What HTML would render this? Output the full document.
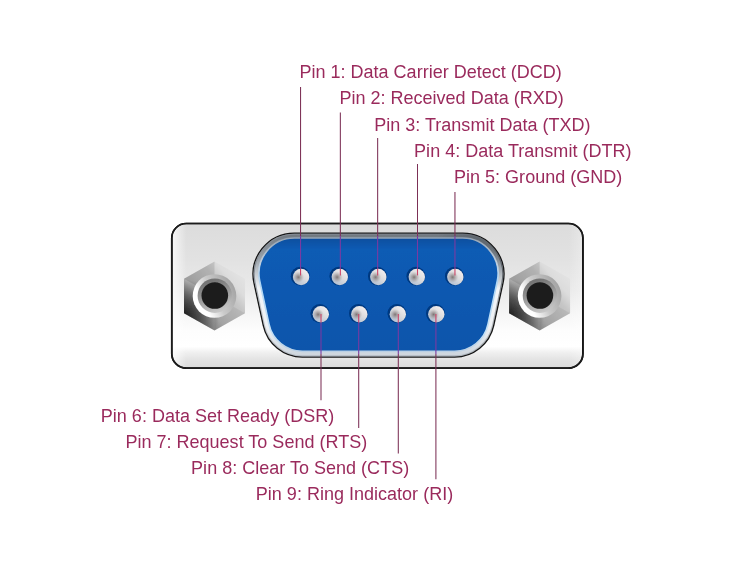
<!DOCTYPE html>
<html lang="en">
<head>
<meta charset="utf-8">
<title>DB9 Serial Connector Pinout</title>
<style>
html,body{margin:0;padding:0;background:#fff;}
body{width:750px;height:568px;overflow:hidden;position:relative;}
svg{position:absolute;left:0;top:0;display:block;}
text{font-family:"Liberation Sans",sans-serif;font-size:18.04px;fill:#9a2a5c;}
</style>
</head>
<body>
<svg width="750" height="568" viewBox="0 0 750 568">
<defs>
  <linearGradient id="plate" x1="0" y1="0" x2="0" y2="1">
    <stop offset="0" stop-color="#dcdcdc"/>
    <stop offset="0.25" stop-color="#e2e2e2"/>
    <stop offset="0.46" stop-color="#eaeaea"/>
    <stop offset="0.6" stop-color="#f4f4f4"/>
    <stop offset="0.74" stop-color="#fdfdfd"/>
    <stop offset="0.85" stop-color="#ffffff"/>
    <stop offset="0.89" stop-color="#f0f0f0"/>
    <stop offset="0.945" stop-color="#e2e2e2"/>
    <stop offset="1" stop-color="#dadada"/>
  </linearGradient>
  <linearGradient id="plateSide" gradientUnits="userSpaceOnUse" x1="172" y1="0" x2="583" y2="0">
    <stop offset="0" stop-color="#fff" stop-opacity="0.75"/>
    <stop offset="0.035" stop-color="#fff" stop-opacity="0"/>
    <stop offset="0.965" stop-color="#fff" stop-opacity="0"/>
    <stop offset="1" stop-color="#fff" stop-opacity="0.3"/>
  </linearGradient>
  <linearGradient id="rim" gradientUnits="userSpaceOnUse" x1="0" y1="233" x2="0" y2="357">
    <stop offset="0" stop-color="#6c747c"/>
    <stop offset="0.07" stop-color="#7e868e"/>
    <stop offset="0.2" stop-color="#98a0a8"/>
    <stop offset="0.45" stop-color="#f2f5f8"/>
    <stop offset="0.75" stop-color="#eef1f4"/>
    <stop offset="1" stop-color="#ccd4dc"/>
  </linearGradient>
  <linearGradient id="rimIn" gradientUnits="userSpaceOnUse" x1="0" y1="233" x2="0" y2="357">
    <stop offset="0" stop-color="#8e9cac"/>
    <stop offset="0.25" stop-color="#c0d0e0"/>
    <stop offset="0.4" stop-color="#b0d6f4"/>
    <stop offset="0.8" stop-color="#c4e0f6"/>
    <stop offset="1" stop-color="#b8cce0"/>
  </linearGradient>
  <radialGradient id="rimTR" gradientUnits="userSpaceOnUse" cx="492" cy="236" r="55">
    <stop offset="0" stop-color="#30363c" stop-opacity="0.45"/>
    <stop offset="0.5" stop-color="#30363c" stop-opacity="0.22"/>
    <stop offset="1" stop-color="#30363c" stop-opacity="0"/>
  </radialGradient>
  <linearGradient id="fade" gradientUnits="userSpaceOnUse" x1="0" y1="233" x2="0" y2="357">
    <stop offset="0" stop-color="#fff"/>
    <stop offset="0.3" stop-color="#fff"/>
    <stop offset="0.6" stop-color="#777"/>
    <stop offset="1" stop-color="#555"/>
  </linearGradient>
  <mask id="fadeMask" maskUnits="userSpaceOnUse" x="240" y="225" width="280" height="140"><rect x="240" y="225" width="280" height="140" fill="url(#fade)"/></mask>
  <linearGradient id="rimDark" gradientUnits="userSpaceOnUse" x1="252" y1="0" x2="505" y2="0">
    <stop offset="0" stop-color="#8a9098"/>
    <stop offset="0.7" stop-color="#7a8088"/>
    <stop offset="1" stop-color="#5c6268"/>
  </linearGradient>
  <linearGradient id="blue" x1="0" y1="0" x2="0" y2="1">
    <stop offset="0" stop-color="#084e9e"/>
    <stop offset="0.1" stop-color="#0a5bb4"/>
    <stop offset="1" stop-color="#0855ab"/>
  </linearGradient>
  <linearGradient id="pinBase" x1="0.8" y1="0.1" x2="0.2" y2="0.9">
    <stop offset="0" stop-color="#f2eeee"/>
    <stop offset="0.45" stop-color="#dcdcde"/>
    <stop offset="1" stop-color="#b4c2d4"/>
  </linearGradient>
  <radialGradient id="pinSpot" gradientUnits="userSpaceOnUse" cx="-2.6" cy="0.2" r="5.6">
    <stop offset="0" stop-color="#6e6462" stop-opacity="0.85"/>
    <stop offset="0.5" stop-color="#8a7e7c" stop-opacity="0.45"/>
    <stop offset="1" stop-color="#a09894" stop-opacity="0"/>
  </radialGradient>
  <linearGradient id="hex" gradientUnits="userSpaceOnUse" x1="26.3" y1="-22.3" x2="-26.3" y2="22.3">
    <stop offset="0" stop-color="#e3e3e3"/>
    <stop offset="0.175" stop-color="#dcdcdc"/>
    <stop offset="0.325" stop-color="#c6c6c6"/>
    <stop offset="0.675" stop-color="#aeaeae"/>
    <stop offset="0.825" stop-color="#8c8c8c"/>
    <stop offset="1" stop-color="#6e6e6e"/>
  </linearGradient>
  <radialGradient id="hexDark" gradientUnits="userSpaceOnUse" cx="-31" cy="19" r="36">
    <stop offset="0" stop-color="#000" stop-opacity="0.72"/>
    <stop offset="0.45" stop-color="#000" stop-opacity="0.42"/>
    <stop offset="1" stop-color="#000" stop-opacity="0"/>
  </radialGradient>
  <linearGradient id="ring" gradientUnits="userSpaceOnUse" x1="19" y1="-11" x2="-19" y2="9">
    <stop offset="0" stop-color="#a4a4a4"/>
    <stop offset="0.5" stop-color="#cacaca"/>
    <stop offset="0.82" stop-color="#ffffff"/>
    <stop offset="1" stop-color="#ffffff"/>
  </linearGradient>
  <linearGradient id="cone" gradientUnits="userSpaceOnUse" x1="-5" y1="-15" x2="5" y2="15">
    <stop offset="0" stop-color="#747474"/>
    <stop offset="0.5" stop-color="#9c9c9c"/>
    <stop offset="1" stop-color="#c6c6c6"/>
  </linearGradient>
  <filter id="soft" x="-5%" y="-5%" width="110%" height="110%"><feGaussianBlur stdDeviation="0.45"/></filter>
  <filter id="tsoft" x="-2%" y="-20%" width="104%" height="140%"><feGaussianBlur stdDeviation="0.3"/></filter>
  <filter id="soft3" x="-20%" y="-20%" width="140%" height="140%"><feGaussianBlur stdDeviation="0.5"/></filter>
  <filter id="soft2" x="-20%" y="-20%" width="140%" height="140%"><feGaussianBlur stdDeviation="0.8"/></filter>
  <g id="nut">
    <polygon points="0,-34.6 30.5,-17.3 30.5,17.3 0,34.6 -30.5,17.3 -30.5,-17.3" fill="url(#hex)"/>
    <polygon points="0,-34.6 30.5,-17.3 30.5,17.3 0,34.6 -30.5,17.3 -30.5,-17.3" fill="url(#hexDark)"/>
    <polygon points="0,0 0,-34.6 -30.5,-17.3" fill="#000" opacity="0.1"/>
    <polygon points="0,0 30.5,17.3 0,34.6" fill="#000" opacity="0.06"/>
    <circle cx="0" cy="0" r="21.8" fill="url(#ring)"/>
    <circle cx="0.3" cy="-0.3" r="17.2" fill="url(#cone)" filter="url(#soft3)"/>
    <circle cx="0.3" cy="-0.5" r="13.3" fill="#1e1e1e" filter="url(#soft3)"/>
  </g>
  <g id="p">
    <circle cx="-0.8" cy="-0.8" r="9.4" fill="#06347a" opacity="0.9" filter="url(#soft3)"/>
    <circle cx="0.1" cy="0" r="8.2" fill="url(#pinBase)"/>
    <circle cx="0.1" cy="0" r="8.2" fill="url(#pinSpot)"/>
  </g>
</defs>

<g filter="url(#soft)">
<!-- plate -->
<rect x="171.8" y="223.5" width="411.1" height="144.7" rx="14.5" ry="14.5" fill="url(#plate)" stroke="#1a1a1a" stroke-width="1.7"/>
<rect x="172.8" y="224.5" width="409.1" height="142.7" rx="13.5" ry="13.5" fill="url(#plateSide)"/>
<rect x="171.8" y="223.5" width="411.1" height="144.7" rx="14.5" ry="14.5" fill="none" stroke="#1a1a1a" stroke-width="1.7"/>

<!-- nuts -->
<use href="#nut" x="214.5" y="296"/>
<use href="#nut" x="539.6" y="296"/>

<!-- D shell -->
<path d="M254.05,283.22 A41.30,41.30 0 0 1 294.40,233.10 L462.60,233.10 A41.30,41.30 0 0 1 502.95,283.22 L493.68,325.64 A40.00,40.00 0 0 1 454.60,357.10 L302.40,357.10 A40.00,40.00 0 0 1 263.32,325.64 Z" fill="url(#rim)" stroke="#141414" stroke-width="1.4"/>
<path d="M254.05,283.22 A41.30,41.30 0 0 1 294.40,233.10 L462.60,233.10 A41.30,41.30 0 0 1 502.95,283.22 L493.68,325.64 A40.00,40.00 0 0 1 454.60,357.10 L302.40,357.10 A40.00,40.00 0 0 1 263.32,325.64 Z" fill="url(#rimTR)"/>
<path d="M255.18,282.97 A40.15,40.15 0 0 1 294.40,234.25 L462.60,234.25 A40.15,40.15 0 0 1 501.82,282.97 L492.55,325.39 A38.85,38.85 0 0 1 454.60,355.95 L302.40,355.95 A38.85,38.85 0 0 1 264.45,325.39 Z" fill="none" stroke="url(#rimDark)" stroke-width="1.2" mask="url(#fadeMask)"/>
<path d="M259.69,280.93 A35.50,35.50 0 0 1 294.40,238.00 L462.60,238.00 A35.50,35.50 0 0 1 497.31,280.93 L488.04,324.26 A34.20,34.20 0 0 1 454.60,351.30 L302.40,351.30 A34.20,34.20 0 0 1 268.96,324.26 Z" fill="url(#blue)" stroke="url(#rimIn)" stroke-width="1.7"/>

<!-- pins -->
<use href="#p" x="301" y="277"/>
<use href="#p" x="339.7" y="277"/>
<use href="#p" x="378.2" y="277"/>
<use href="#p" x="416.7" y="277"/>
<use href="#p" x="455.2" y="277"/>
<use href="#p" x="320.7" y="314.3"/>
<use href="#p" x="359.2" y="314.3"/>
<use href="#p" x="397.7" y="314.3"/>
<use href="#p" x="436.2" y="314.3"/>
</g>

<!-- leader lines -->
<g stroke="#7c3056" stroke-width="1.05" fill="none">
  <line x1="300.55" y1="87" x2="300.55" y2="236"/>
  <line x1="340.35" y1="112.5" x2="340.35" y2="236"/>
  <line x1="377.65" y1="138" x2="377.65" y2="236"/>
  <line x1="417.5" y1="164" x2="417.5" y2="236"/>
  <line x1="454.95" y1="192" x2="454.95" y2="236"/>
  <line x1="321.0" y1="354" x2="321.0" y2="400.3"/>
  <line x1="358.7" y1="354" x2="358.7" y2="428"/>
  <line x1="398.3" y1="354" x2="398.3" y2="453.6"/>
  <line x1="435.9" y1="354" x2="435.9" y2="479.2"/>
</g>
<g stroke="#7a3aa2" stroke-width="1.1" fill="none">
  <line x1="300.55" y1="236" x2="300.55" y2="268.6"/>
  <line x1="340.35" y1="236" x2="340.35" y2="268.6"/>
  <line x1="377.65" y1="236" x2="377.65" y2="268.6"/>
  <line x1="417.5" y1="236" x2="417.5" y2="268.6"/>
  <line x1="454.95" y1="236" x2="454.95" y2="268.6"/>
  <line x1="321.0" y1="322.4" x2="321.0" y2="354"/>
  <line x1="358.7" y1="322.4" x2="358.7" y2="354"/>
  <line x1="398.3" y1="322.4" x2="398.3" y2="354"/>
  <line x1="435.9" y1="322.4" x2="435.9" y2="354"/>
</g>
<g stroke="#cc4468" stroke-width="1.1" fill="none">
  <line x1="300.55" y1="268.6" x2="300.55" y2="275.4"/>
  <line x1="340.35" y1="268.6" x2="340.35" y2="275.4"/>
  <line x1="377.65" y1="268.6" x2="377.65" y2="275.4"/>
  <line x1="417.5" y1="268.6" x2="417.5" y2="275.4"/>
  <line x1="454.95" y1="268.6" x2="454.95" y2="275.4"/>
  <line x1="321.0" y1="314" x2="321.0" y2="322.4"/>
  <line x1="358.7" y1="314" x2="358.7" y2="322.4"/>
  <line x1="398.3" y1="314" x2="398.3" y2="322.4"/>
  <line x1="435.9" y1="314" x2="435.9" y2="322.4"/>
</g>

<!-- labels -->
<g filter="url(#tsoft)">
<text transform="translate(299.4,78.25) scale(1,1.035)">Pin 1: Data Carrier Detect (DCD)</text>
<text transform="translate(339.4,104.35) scale(1,1.035)">Pin 2: Received Data (RXD)</text>
<text transform="translate(374.2,130.5) scale(1,1.035)">Pin 3: Transmit Data (TXD)</text>
<text transform="translate(414.1,156.6) scale(1,1.035)">Pin 4: Data Transmit (DTR)</text>
<text transform="translate(454.0,182.7) scale(1,1.035)">Pin 5: Ground (GND)</text>
<text transform="translate(100.8,421.7) scale(1,1.035)">Pin 6: Data Set Ready (DSR)</text>
<text transform="translate(125.4,447.9) scale(1,1.035)">Pin 7: Request To Send (RTS)</text>
<text transform="translate(191.1,474.2) scale(1,1.035)">Pin 8: Clear To Send (CTS)</text>
<text transform="translate(255.8,500.4) scale(1,1.035)">Pin 9: Ring Indicator (RI)</text>
</g>
</svg>
</body>
</html>
